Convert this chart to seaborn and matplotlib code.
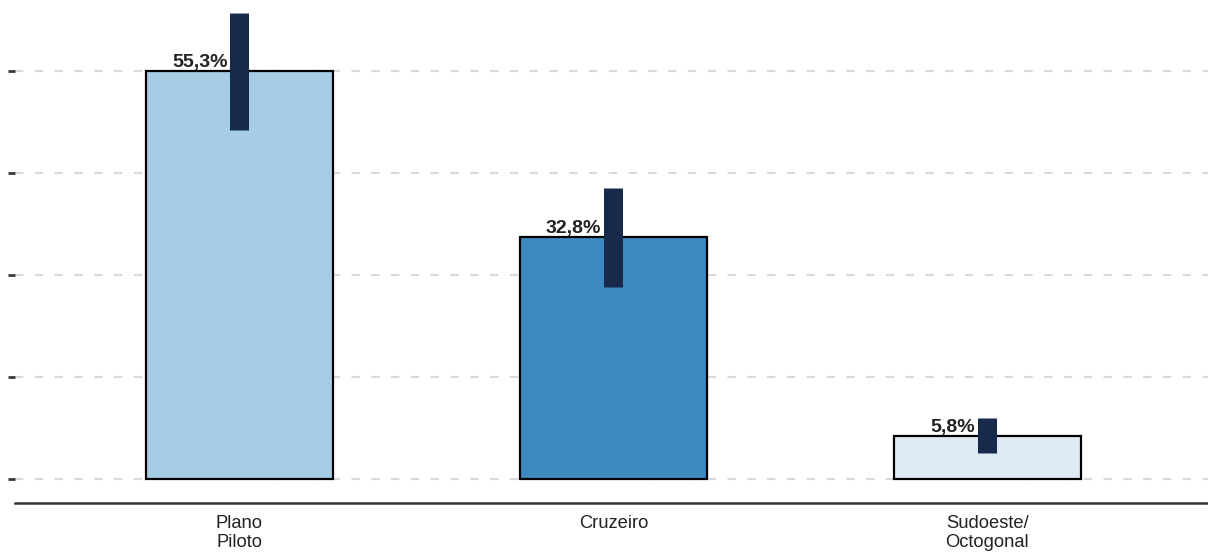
import matplotlib
matplotlib.use("Agg")
import matplotlib.pyplot as plt
import seaborn as sns
import numpy as np
import pandas as pd

categories = ["Plano\nPiloto", "Cruzeiro", "Sudoeste/\nOctogonal"]
values = [55.3, 32.8, 5.8]
ci_low = [47.3, 26.0, 3.5]
ci_high = [63.1, 39.4, 8.3]
labels = ["55,3%", "32,8%", "5,8%"]
colors = ["#a6cde3", "#3d8ac1", "#deebf7"]

sns.set_theme(style="white")
plt.rcParams['font.family'] = ['Liberation Sans', 'DejaVu Sans']

df = pd.DataFrame({"cat": categories, "val": values})

fig = plt.figure(figsize=(12.08, 5.53), dpi=100)
ax = fig.add_axes([15/1208, 50/553, 1 - 15/1208, 503/553])

sns.barplot(data=df, x="cat", y="val", hue="cat", palette=colors, order=categories,
            hue_order=categories, width=0.5, edgecolor="black", linewidth=1.6,
            saturation=1, legend=False, ax=ax, zorder=2)

x = np.arange(len(categories))
ax.vlines(x, ci_low, ci_high, colors="#172a4b", linewidth=13.7, zorder=4,
          capstyle="butt")

for xi, v, lab in zip(x, values, labels):
    ax.annotate(lab, xy=(xi, v), xytext=(-12, 0), textcoords="offset pixels",
                ha="right", va="bottom", fontsize=14, fontweight="bold",
                color="#222222", zorder=5)

yt = np.linspace(0, max(values), 5)
ax.set_yticks(yt)
ax.set_yticklabels([])
ax.yaxis.grid(True, linestyle=(0, (4, 5.5)), color="#d9d9d9", linewidth=1.5, zorder=1)
ax.set_axisbelow(True)
ax.tick_params(axis="y", left=True, length=5, width=2, color="#3a3a3a", direction="out", pad=0)
ax.tick_params(axis="x", bottom=False, labelsize=13.2, pad=3, labelcolor="#222222")
for t in ax.get_xticklabels():
    t.set_linespacing(1.1)

ax.set_xlim(-0.6, 2.59)
ax.set_ylim(-3.25, 64.9)
ax.set_xlabel("")
ax.set_ylabel("")
for s in ["top", "right", "left"]:
    ax.spines[s].set_visible(False)
ax.spines["bottom"].set_color("#3b3530")
ax.spines["bottom"].set_linewidth(1.8)

fig.savefig("out.png", dpi=100)
